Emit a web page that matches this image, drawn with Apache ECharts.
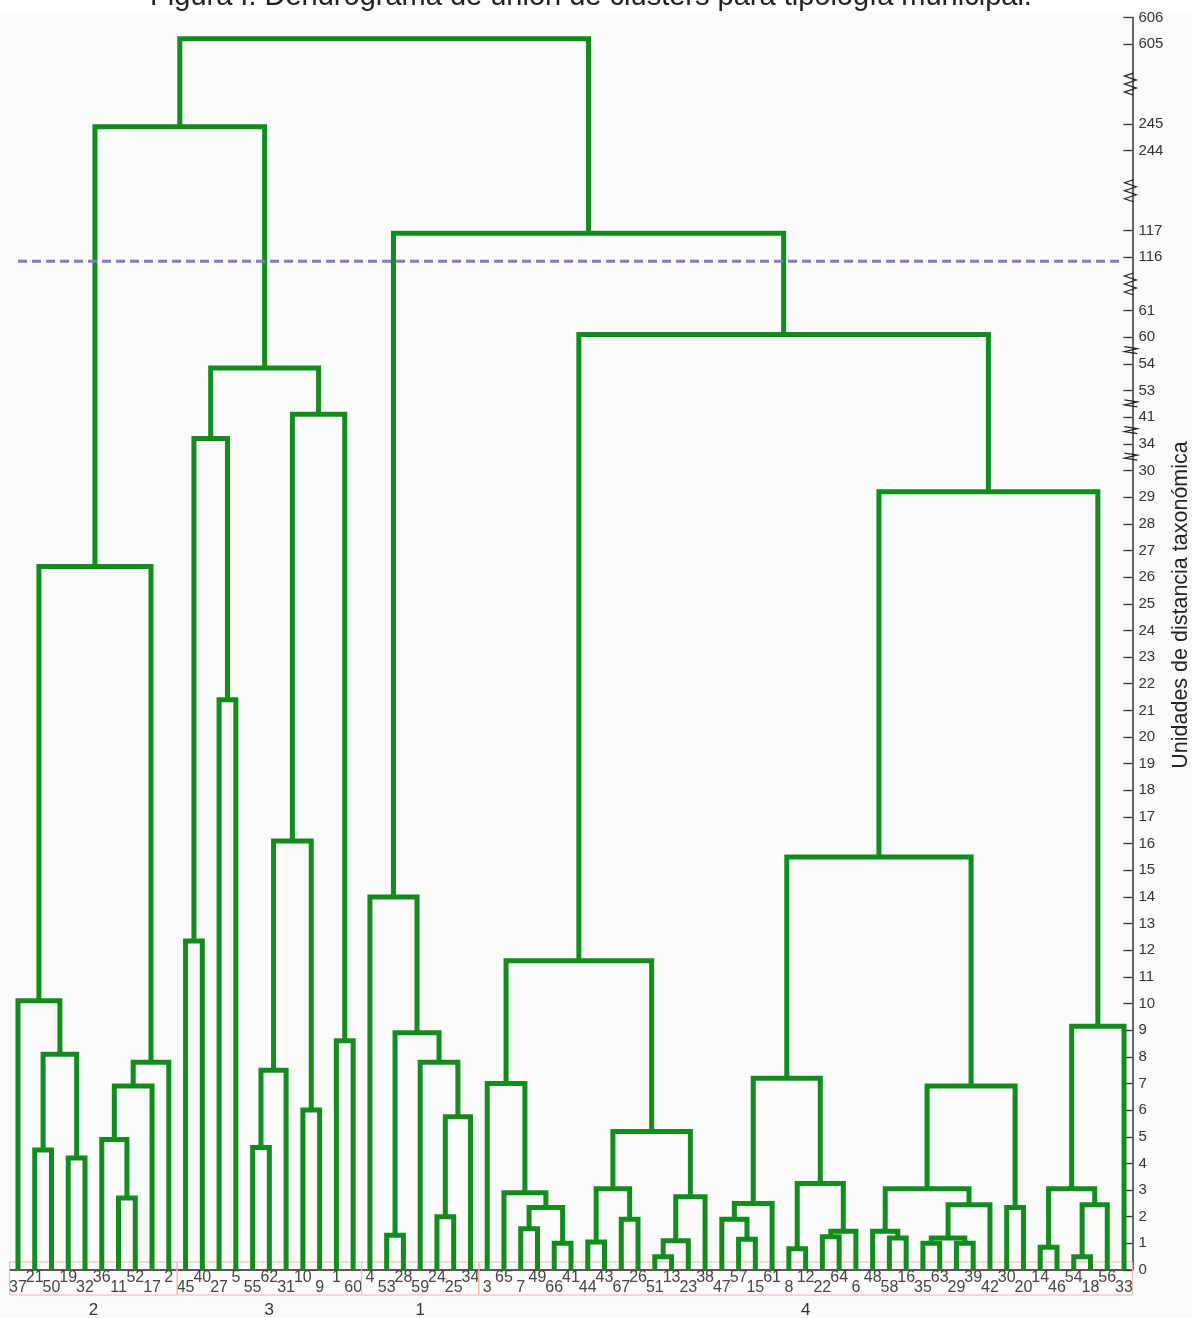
<!DOCTYPE html>
<html>
<head>
<meta charset="utf-8">
<script src="https://cdn.jsdelivr.net/npm/echarts@6/dist/echarts.min.js"></script>
<style>
  html, body { margin: 0; padding: 0; background: #fbfbfb; }
  #chart { width: 1192px; height: 1318px; }
</style>
</head>
<body>
<div id="chart"></div>
<script>
// Municipalities in the order they appear along the bottom of the dendrogram
const leafOrder = [
  37, 21, 50, 19, 32, 36, 11, 52, 17, 2,
  45, 40, 27, 5, 55, 62, 31, 10, 9, 1, 60,
  4, 53, 28, 59, 24, 25, 34,
  3, 65, 7, 49, 66, 41, 44, 43, 67, 26, 51, 13, 23, 38, 47, 57, 15, 61, 8, 12, 22, 64,
  6, 48, 58, 16, 35, 63, 29, 39, 42, 30, 20, 14, 46, 54, 18, 56, 33
];

// Final clusters (left to right) and how many municipalities each holds
const clusterNames = ['2', '3', '1', '4'];
const clusterSizes = [10, 11, 7, 39];

// Joins: [left, right, distance]; numbers are municipalities, 'cK' is the K-th join
const merges = [
  [21, 50, 4.5], [19, 32, 4.2], ['c0', 'c1', 8.1], [37, 'c2', 10.1],
  [11, 52, 2.7], [36, 'c4', 4.9], ['c5', 17, 6.9], ['c6', 2, 7.8], ['c3', 'c7', 26.4],
  [45, 40, 12.35], [27, 5, 21.4], ['c9', 'c10', 35.4],
  [55, 62, 4.6], ['c12', 31, 7.5], [10, 9, 6.0], ['c13', 'c14', 16.1],
  [1, 60, 8.6], ['c15', 'c16', 42.4], ['c11', 'c17', 53.85], ['c8', 'c18', 244.9],
  [53, 28, 1.3], [24, 25, 2.0], ['c21', 34, 5.75], [59, 'c22', 7.8], ['c20', 'c23', 8.9], [4, 'c24', 14.0],
  [7, 49, 1.55], [66, 41, 1.0], ['c26', 'c27', 2.35], [65, 'c28', 2.9], [3, 'c29', 7.0],
  [44, 43, 1.05], [67, 26, 1.9], ['c31', 'c32', 3.05],
  [51, 13, 0.5], ['c34', 23, 1.1], ['c35', 38, 2.75], ['c33', 'c36', 5.2], ['c30', 'c37', 11.6],
  [57, 15, 1.15], [47, 'c39', 1.9], ['c40', 61, 2.5],
  [8, 12, 0.8], [22, 64, 1.25], ['c43', 6, 1.45], ['c42', 'c44', 3.25], ['c41', 'c45', 7.2],
  [58, 16, 1.2], [48, 'c47', 1.45], [35, 63, 1.0], [29, 39, 1.0], ['c49', 'c50', 1.2], ['c51', 42, 2.45],
  ['c48', 'c52', 3.05], [30, 20, 2.35], ['c53', 'c54', 6.9], ['c46', 'c55', 15.5],
  [14, 46, 0.85], [54, 18, 0.5], ['c58', 56, 2.45], ['c57', 'c59', 3.05], ['c60', 33, 9.15],
  ['c56', 'c61', 29.2], ['c38', 'c62', 60.1], ['c25', 'c63', 116.9], ['c19', 'c64', 605.2]
];

// Distance scale: one step per labelled tick, with blank steps where the axis is broken
const tickValues = [
  0, 1, 2, 3, 4, 5, 6, 7, 8, 9, 10, 11, 12, 13, 14, 15, 16, 17, 18, 19, 20,
  21, 22, 23, 24, 25, 26, 27, 28, 29, 30, 34, 41, 53, 54, 60, 61, 116, 117, 244, 245, 605, 606
];
const breakSteps = { 61: 1, 117: 2, 245: 2 };

// Cutting level that defines the four clusters
const cutHeight = 115.85;

// ---- scale helpers ----
const tickSlots = [];
(function () {
  let s = 0;
  tickValues.forEach(function (v) { tickSlots.push(s); s += 1 + (breakSteps[v] || 0); });
})();
const slotMax = tickSlots[tickSlots.length - 1];

function toSlot(v) {
  for (let i = 0; i < tickValues.length - 1; i++) {
    const v0 = tickValues[i], v1 = tickValues[i + 1];
    const s0 = tickSlots[i], s1 = tickSlots[i + 1];
    if (v >= v0 && v <= v1) {
      if (s1 - s0 > 1) {
        // broken stretch: only the unit right below the next tick is drawn to scale
        if (v >= v1 - 1) return s1 - (v1 - v);
        return s0 + (v - v0) / (v1 - 1 - v0) * (s1 - s0 - 1);
      }
      return s0 + (v - v0) / (v1 - v0);
    }
  }
  return slotMax;
}

// ---- dendrogram geometry (in leaf-index / scale-step units) ----
const leafIndex = {};
leafOrder.forEach(function (v, i) { leafIndex[v] = i; });
const nodes = [];
function nodeOf(ref) {
  if (typeof ref === 'number') return { x: leafIndex[ref], h: 0 };
  return nodes[+ref.slice(1)];
}
const linkData = merges.map(function (m) {
  const a = nodeOf(m[0]), b = nodeOf(m[1]);
  const h = toSlot(m[2]);
  nodes.push({ x: (a.x + b.x) / 2, h: h });
  return [a.x, a.h, b.x, b.h, h];
});

// cluster spans along the leaves
const clusterData = [];
(function () {
  let start = 0;
  clusterSizes.forEach(function (n, k) {
    clusterData.push([start, start + n - 1, k]);
    start += n;
  });
})();

// break marks on the distance axis
const breakData = [];
for (let i = 0; i < tickValues.length - 1; i++) {
  if (tickValues[i + 1] - tickValues[i] > 1) {
    const gap = tickSlots[i + 1] - tickSlots[i];
    breakData.push([(tickSlots[i] + tickSlots[i + 1]) / 2, gap > 1 ? 1 : 0]);
  }
}

const GREEN = '#118d1d';
const FONT = '"Liberation Sans", Arial, Helvetica, sans-serif';

const chart = echarts.init(document.getElementById('chart'), null, { renderer: 'canvas' });

chart.setOption({
  backgroundColor: '#fbfbfb',
  animation: false,
  textStyle: { fontFamily: FONT },
  grid: {
    left: 9.6, right: 59.6, top: 17.5, bottom: 48,
    containLabel: false, outerBoundsMode: 'none'
  },
  xAxis: [
    {
      type: 'category',
      data: leafOrder.map(String),
      boundaryGap: true,
      position: 'bottom',
      axisLine: { show: true, onZero: false, lineStyle: { color: '#222', width: 1.5 } },
      axisTick: { show: false },
      splitLine: { show: false },
      axisLabel: {
        interval: 0,
        margin: 0,
        fontSize: 16,
        color: '#444',
        hideOverlap: false,
        formatter: function (val, idx) {
          return idx % 2 ? '{hi|' + val + '}' : '{lo|' + val + '}';
        },
        rich: {
          hi: { fontSize: 16, color: '#444', lineHeight: 15, fontFamily: FONT },
          lo: { fontSize: 16, color: '#444', lineHeight: 35, fontFamily: FONT }
        }
      }
    },
    {
      type: 'value',
      min: -0.5,
      max: leafOrder.length - 0.5,
      position: 'top',
      show: false
    }
  ],
  yAxis: {
    type: 'value',
    position: 'right',
    min: 0,
    max: slotMax,
    interval: 1,
    splitLine: { show: false },
    axisLine: { show: true, onZero: false, lineStyle: { color: '#333', width: 1.5 } },
    axisTick: {
      show: true, inside: true, length: 9,
      customValues: tickSlots,
      lineStyle: { color: '#333', width: 1.3 }
    },
    axisLabel: {
      customValues: tickSlots,
      margin: 6,
      fontSize: 15,
      color: '#333',
      fontFamily: FONT,
      formatter: function (val) {
        const i = tickSlots.indexOf(Math.round(val));
        return i >= 0 ? String(tickValues[i]) : '';
      }
    }
  },
  graphic: [
    { type: 'rect', left: 0, top: 0, shape: { width: 1192, height: 11 }, style: { fill: '#ffffff' }, z: -1, silent: true },
    {
      type: 'text', x: 591, y: -3,
      style: {
        text: 'Figura I. Dendrograma de unión de clusters para tipología municipal.',
        font: '29px ' + FONT, fill: '#222', align: 'center', verticalAlign: 'middle'
      }
    },
    {
      type: 'text', x: 1181, y: 605, rotation: Math.PI / 2,
      style: {
        text: 'Unidades de distancia taxonómica',
        font: '21.5px ' + FONT, fill: '#222', align: 'center', verticalAlign: 'middle'
      }
    }
  ],
  series: [
    {
      // cluster frames under the leaf labels, with the cluster number beneath
      type: 'custom',
      xAxisIndex: 1,
      yAxisIndex: 0,
      clip: false,
      z: 1,
      silent: true,
      data: clusterData,
      renderItem: function (params, api) {
        const s = api.value(0), e = api.value(1), k = api.value(2);
        const tl = api.coord([s - 0.5, 0.3]);
        const br = api.coord([e + 0.5, -0.94]);
        const c = api.coord([(s + e) / 2, -1.5]);
        return {
          type: 'group',
          children: [
            {
              type: 'rect',
              shape: { x: tl[0], y: tl[1], width: br[0] - tl[0], height: br[1] - tl[1] },
              style: { fill: null, stroke: '#f1b7a7', lineWidth: 1 }
            },
            {
              type: 'text',
              x: c[0], y: c[1],
              style: { text: clusterNames[k], font: '17px ' + FONT, fill: '#333', align: 'center', verticalAlign: 'middle' }
            }
          ]
        };
      }
    },
    {
      // dendrogram links
      type: 'custom',
      xAxisIndex: 1,
      yAxisIndex: 0,
      z: 2,
      silent: true,
      data: linkData,
      renderItem: function (params, api) {
        const p1 = api.coord([api.value(0), api.value(1)]);
        const p2 = api.coord([api.value(0), api.value(4)]);
        const p3 = api.coord([api.value(2), api.value(4)]);
        const p4 = api.coord([api.value(2), api.value(3)]);
        return {
          type: 'polyline',
          shape: { points: [p1, p2, p3, p4] },
          style: { fill: null, stroke: GREEN, lineWidth: 5, lineJoin: 'miter', lineCap: 'butt' }
        };
      }
    },
    {
      // cutting level
      type: 'line',
      xAxisIndex: 1,
      yAxisIndex: 0,
      z: 3,
      silent: true,
      symbol: 'none',
      data: [[0, toSlot(cutHeight)], [leafOrder.length - 1, toSlot(cutHeight)]],
      lineStyle: { color: '#7c7cc3', width: 3, type: [9, 5] }
    },
    {
      // break marks on the distance axis
      type: 'custom',
      xAxisIndex: 1,
      yAxisIndex: 0,
      clip: false,
      z: 4,
      silent: true,
      data: breakData,
      renderItem: function (params, api) {
        const c = api.coord([leafOrder.length - 0.5, api.value(0)]);
        const ax = c[0], y = c[1];
        const pts = api.value(1)
          ? [[ax + 1, y - 11], [ax - 8, y - 8], [ax + 4, y - 4], [ax - 8, y], [ax + 4, y + 4], [ax - 8, y + 8], [ax + 1, y + 11]]
          : [[ax - 8, y - 4], [ax + 5, y - 2], [ax - 8, y + 1], [ax + 5, y + 3]];
        return {
          type: 'polyline',
          shape: { points: pts },
          style: { fill: null, stroke: '#222', lineWidth: 1.2 }
        };
      }
    }
  ]
});
</script>
</body>
</html>
